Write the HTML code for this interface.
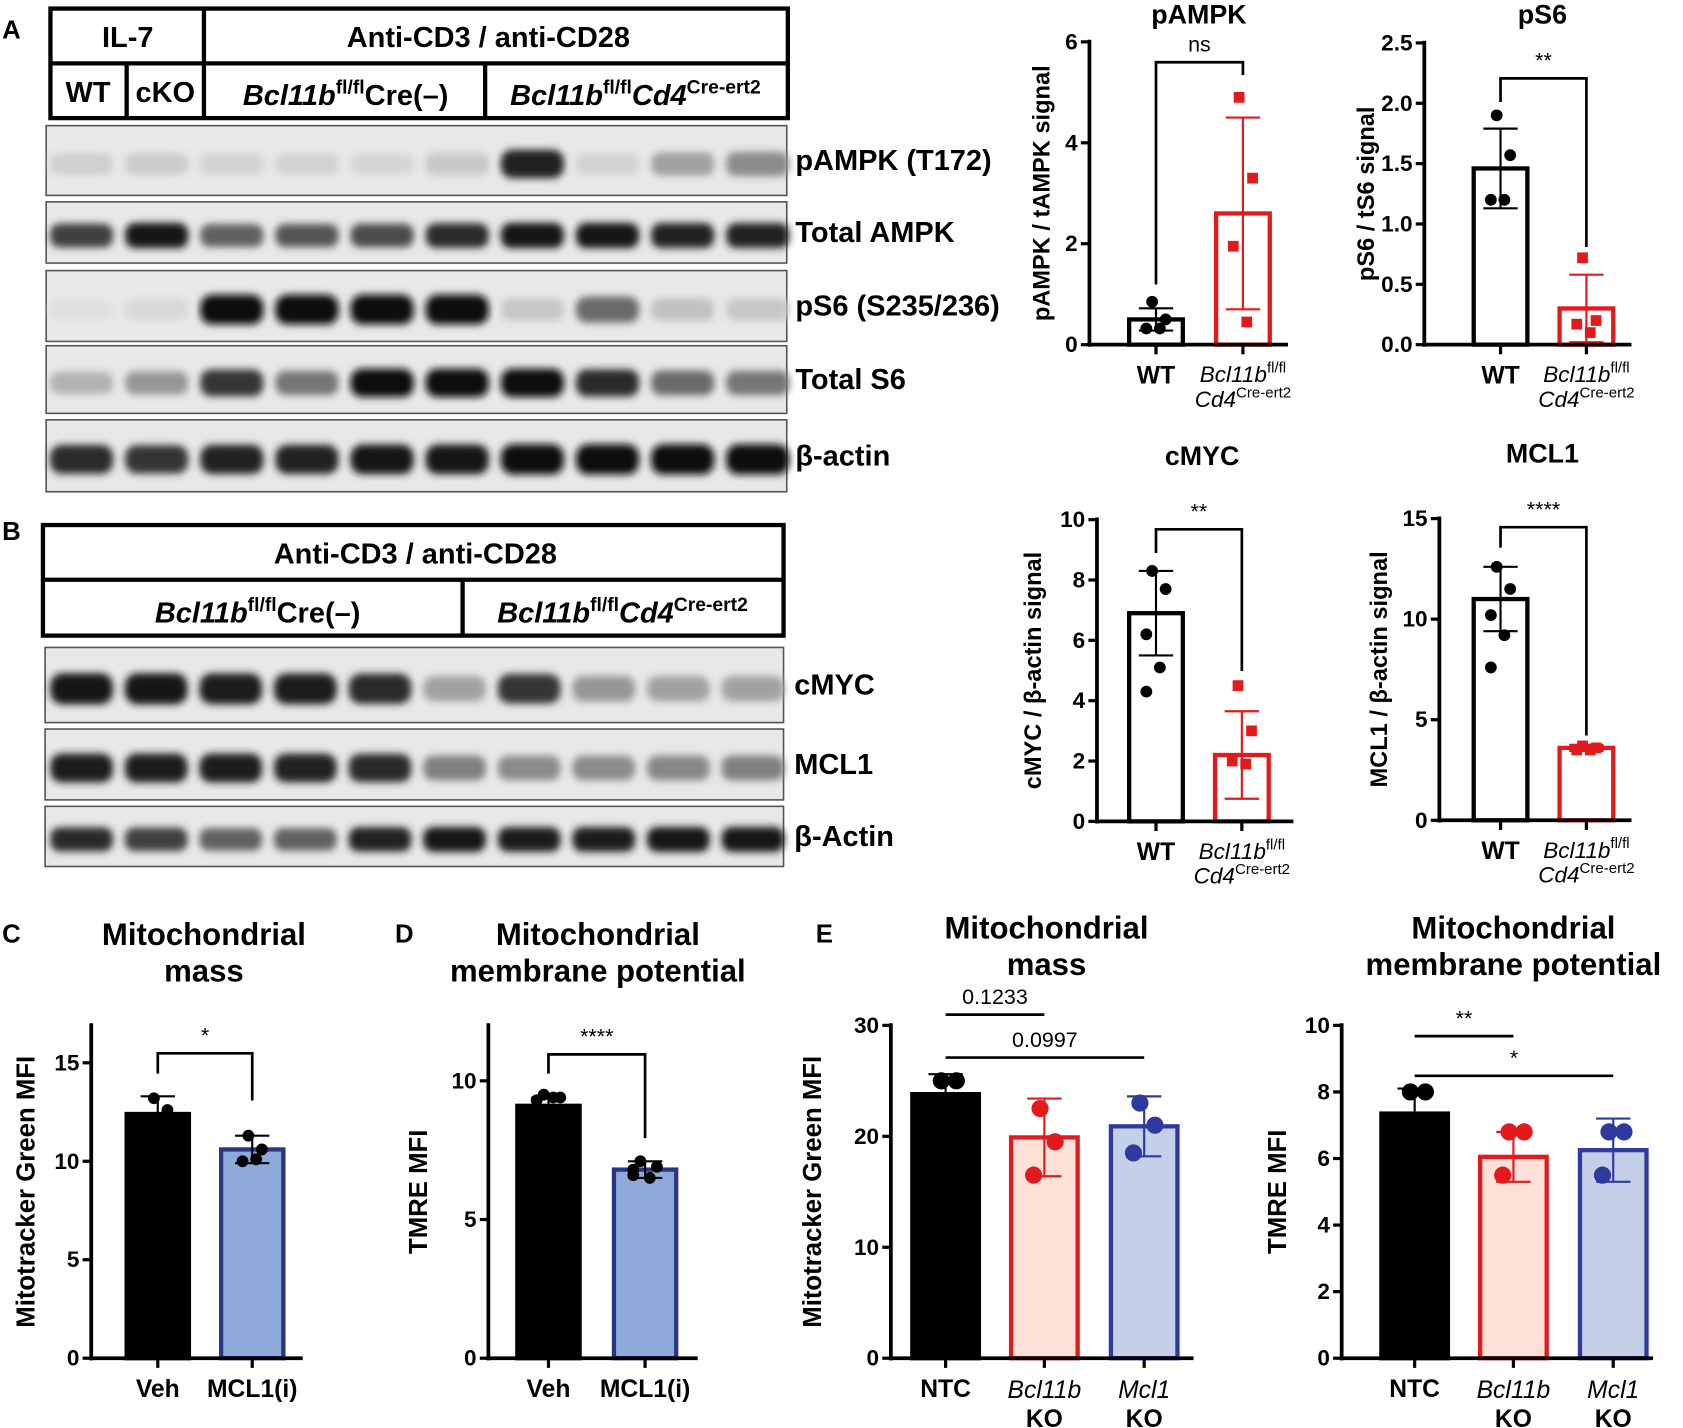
<!DOCTYPE html>
<html><head><meta charset="utf-8"><style>
html,body{margin:0;padding:0;background:#fff;}
svg{display:block;font-family:"Liberation Sans",Arial,sans-serif;}
</style></head><body>
<svg id="fig" width="1683" height="1428" viewBox="0 0 1568 1330" preserveAspectRatio="none" xmlns="http://www.w3.org/2000/svg">
<defs>
<filter id="blur" x="-30%" y="-80%" width="160%" height="260%"><feGaussianBlur stdDeviation="3.5"/></filter>
</defs>
<g id="static" font-weight="bold" fill="#000">
<text x="2" y="36" font-size="24">A</text>
<text x="2" y="503" font-size="24">B</text>
<text x="2" y="878" font-size="24">C</text>
<text x="368" y="878" font-size="24">D</text>
<text x="760" y="878" font-size="24">E</text>

<g fill="none" stroke="#000" stroke-width="4">
<rect x="47" y="8" width="687" height="102"/>
<line x1="47" y1="59" x2="734" y2="59"/>
<line x1="190" y1="8" x2="190" y2="110"/>
<line x1="118" y1="59" x2="118" y2="110"/>
<line x1="452" y1="59" x2="452" y2="110"/>
</g>
<text x="119" y="44" font-size="27" text-anchor="middle">IL-7</text>
<text x="455" y="44" font-size="27" text-anchor="middle">Anti-CD3 / anti-CD28</text>
<text x="82" y="95" font-size="27" text-anchor="middle">WT</text>
<text x="154" y="95" font-size="27" text-anchor="middle">cKO</text>
<text x="322" y="98" font-size="27" text-anchor="middle"><tspan font-style="italic">Bcl11b</tspan><tspan font-size="18" dy="-11">fl/fl</tspan><tspan dy="11">Cre(–)</tspan></text>
<text x="592" y="98" font-size="27" text-anchor="middle"><tspan font-style="italic">Bcl11b</tspan><tspan font-size="18" dy="-11">fl/fl</tspan><tspan dy="11" font-style="italic">Cd4</tspan><tspan font-size="18" dy="-11">Cre-ert2</tspan></text>

<g fill="none" stroke="#000" stroke-width="4">
<rect x="40" y="489" width="690" height="103"/>
<line x1="40" y1="540" x2="730" y2="540"/>
<line x1="431" y1="540" x2="431" y2="592"/>
</g>
<text x="387" y="525" font-size="27" text-anchor="middle">Anti-CD3 / anti-CD28</text>
<text x="240" y="580" font-size="27" text-anchor="middle"><tspan font-style="italic">Bcl11b</tspan><tspan font-size="18" dy="-11">fl/fl</tspan><tspan dy="11">Cre(–)</tspan></text>
<text x="580" y="580" font-size="27" text-anchor="middle"><tspan font-style="italic">Bcl11b</tspan><tspan font-size="18" dy="-11">fl/fl</tspan><tspan dy="11" font-style="italic">Cd4</tspan><tspan font-size="18" dy="-11">Cre-ert2</tspan></text>

<text x="1117" y="22" font-size="25" text-anchor="middle">pAMPK</text>
<text x="1437" y="22" font-size="25" text-anchor="middle">pS6</text>
<text x="1120" y="433" font-size="25" text-anchor="middle">cMYC</text>
<text x="1437" y="431" font-size="25" text-anchor="middle">MCL1</text>
<text x="190" y="880" font-size="29" text-anchor="middle">Mitochondrial</text>
<text x="190" y="914" font-size="29" text-anchor="middle">mass</text>
<text x="557" y="880" font-size="29" text-anchor="middle">Mitochondrial</text>
<text x="557" y="914" font-size="29" text-anchor="middle">membrane potential</text>
<text x="975" y="874" font-size="29" text-anchor="middle">Mitochondrial</text>
<text x="975" y="908" font-size="29" text-anchor="middle">mass</text>
<text x="1410" y="874" font-size="29" text-anchor="middle">Mitochondrial</text>
<text x="1410" y="908" font-size="29" text-anchor="middle">membrane potential</text>
</g>
<g id="blots"></g>
<g id="charts"></g>
</svg>
<script>
// ===== Blot data (band intensity 0..1 per lane) =====
const blotALabels = ["pAMPK (T172)","Total AMPK","pS6 (S235/236)","Total S6","β-actin"];
const blotA_pAMPK = [0.08,0.1,0.07,0.07,0.05,0.12,0.9,0.07,0.3,0.4];
const blotA_tAMPK = [0.75,0.95,0.6,0.65,0.7,0.85,0.95,0.95,0.9,0.9];
const blotA_pS6 = [0,0.04,1,1,1,1,0.12,0.55,0.15,0.12];
const blotA_tS6 = [0.22,0.35,0.8,0.5,0.98,1,1,0.85,0.55,0.5];
const blotA_actin = [0.85,0.8,0.9,0.9,0.95,0.95,1,1,1,1];
const blotBLabels = ["cMYC","MCL1","β-Actin"];
const blotB_cMYC = [0.95,0.95,0.92,0.92,0.85,0.3,0.8,0.35,0.3,0.3];
const blotB_MCL1 = [0.92,0.92,0.92,0.88,0.85,0.45,0.4,0.4,0.42,0.45];
const blotB_actin = [0.85,0.75,0.6,0.6,0.9,0.95,0.92,0.92,0.95,0.95];

const NS="http://www.w3.org/2000/svg";
function mk(tag, attrs, parent){const e=document.createElementNS(NS,tag);for(const k in attrs)e.setAttribute(k,attrs[k]);parent.appendChild(e);return e;}
const blots=document.getElementById('blots');
function strip(x,y,w,h,vals,label,lx,name,firstC,step){
  const g=mk('g',{},blots);
  
  
  mk('rect',{x:x,y:y,width:w,height:h,fill:'#e8e8e8',stroke:'#555','stroke-width':1.5},g);
  const inner=mk('g',{filter:'url(#blur)'},g);
  vals.forEach((v,i)=>{
    const cx=firstC+i*step;
    const c=Math.round(225-215*v);
    const bw=step*0.84, bh=Math.max(10,h*0.3+h*0.12*v);
    mk('rect',{x:cx-bw/2,y:y+h*0.55-bh/2,width:bw,height:bh,rx:bh/2.5,fill:`rgb(${c},${c},${c})`},inner);
  });
  const t=mk('text',{x:lx,y:y+h/2+9,'font-size':27,'font-weight':'bold'},g);
  t.textContent=label;
}
const aRows=[[117,65,blotA_pAMPK],[188,57,blotA_tAMPK],[252,66,blotA_pS6],[322,63,blotA_tS6],[391,67,blotA_actin]];
aRows.forEach((r,i)=>strip(43,r[0],690,r[1],r[2],blotALabels[i],741,'blot-a-'+i,76,70));
const bRows=[[603,70,blotB_cMYC],[679,66,blotB_MCL1],[751,56,blotB_actin]];
bRows.forEach((r,i)=>strip(42,r[0],688,r[1],r[2],blotBLabels[i],740,'blot-b-'+i,76,69.5));

// ===== Chart data =====
const pampkCats=["WT","KO"], pampkMeans=[0.5,2.6], pampkSD=[0.22,1.9];
const pampkPts=[[0.85,0.5,0.32,0.32],[4.9,3.3,1.95,0.45]];
const pampkTicks=[0,2,4,6];
const ps6Means=[1.46,0.3], ps6SD=[0.33,0.28];
const ps6Pts=[[1.9,1.57,1.2,1.2],[0.72,0.2,0.17,0.1]];
const ps6Ticks=[0,0.5,1,1.5,2,2.5];
const cmycMeans=[6.9,2.2], cmycSD=[1.4,1.45];
const cmycPts=[[8.3,7.7,6.2,5.1,4.3],[4.5,3.0,2.0,1.9]];
const cmycTicks=[0,2,4,6,8,10];
const mcl1Means=[11,3.6], mcl1SD=[1.6,0.15];
const mcl1Pts=[[12.6,11.5,10.2,9.2,7.6],[3.7,3.6,3.5,3.5]];
const mcl1Ticks=[0,5,10,15];
const cCats=["Veh","MCL1(i)"], cMeans=[12.4,10.6], cSD=[0.9,0.7];
const cPts=[[13.2,12.6],[11.3,10.6,10.0,10.1]];
const cTicks=[0,5,10,15];
const dMeans=[9.1,6.8], dSD=[0.3,0.3];
const dPts=[[9.5,9.4,9.3,9.4],[7.1,6.9,6.6,6.5,6.8]];
const dTicks=[0,5,10];
const eCats=["NTC","Bcl11b|KO","Mcl1|KO"];
const eMassMeans=[23.8,19.9,20.9], eMassSD=[1.8,3.5,2.7];
const eMassPts=[[25,25],[22.5,19.5,16.5],[23,21,18.5]];
const eMassTicks=[0,10,20,30];
const eTmreMeans=[7.35,6.05,6.25], eTmreSD=[0.75,0.75,0.95];
const eTmrePts=[[8.0,8.0],[6.8,6.8,5.5],[6.8,6.8,5.5]];
const eTmreTicks=[0,2,4,6,8,10];

const charts=document.getElementById('charts');
function chart(o){
  const g=mk('g',{},charts);
  
  
  const y=v=>o.y0-(v/o.vmax)*(o.y0-o.ytop);
  o.means.forEach((m,i)=>{
    const cx=o.cx[i], st=o.styles[i];
    const b=mk('rect',{x:cx-o.bw/2,y:y(m),width:o.bw,height:o.y0-y(m),fill:st.fill,stroke:st.stroke,'stroke-width':4},g);
    
    
    const sc=st.err;
    mk('line',{x1:cx,y1:y(m+o.sd[i]),x2:cx,y2:y(Math.max(0,m-o.sd[i])),stroke:sc,'stroke-width':2},g);
    mk('line',{x1:cx-16,y1:y(m+o.sd[i]),x2:cx+16,y2:y(m+o.sd[i]),stroke:sc,'stroke-width':2},g);
    mk('line',{x1:cx-16,y1:y(m-o.sd[i]),x2:cx+16,y2:y(m-o.sd[i]),stroke:sc,'stroke-width':2},g);
    const pts=o.pts[i];
    pts.forEach((p,j)=>{
      const off=(pts.length>1?(j%2?1:-1)*o.jit*((j%3)?1:0.4):0);
      const px=cx+off;
      let d;
      if(st.sq) d=mk('rect',{x:px-5,y:y(p)-5,width:10,height:10,fill:st.pt},g);
      else d=mk('circle',{cx:px,cy:y(p),r:o.pr||5.5,fill:st.pt},g);
      
      
    });
  });
  mk('line',{x1:o.ax,y1:o.ytop-2,x2:o.ax,y2:o.y0+2,stroke:'#000','stroke-width':3.5},g);
  mk('line',{x1:o.ax,y1:o.y0,x2:o.xend,y2:o.y0,stroke:'#000','stroke-width':3.5},g);
  o.ticks.forEach(t=>{
    mk('line',{x1:o.ax-8,y1:y(t),x2:o.ax,y2:y(t),stroke:'#000','stroke-width':3},g);
    const tx=mk('text',{x:o.ax-11,y:y(t)+7,'font-size':o.tfs||21,'text-anchor':'end','font-weight':'bold'},g);
    tx.textContent=o.tfmt?o.tfmt(t):t;
  });
  o.cx.forEach((cx,i)=>{
    mk('line',{x1:cx,y1:o.y0,x2:cx,y2:o.y0+9,stroke:'#000','stroke-width':3},g);
    const lab=o.cats[i];
    if(lab==='KO2'){
      const t1=mk('text',{x:cx,y:o.y0+35,'font-size':21,'text-anchor':'middle','font-style':'italic'},g);
      t1.innerHTML='Bcl11b<tspan font-size="14" font-style="normal" dy="-9">fl/fl</tspan>';
      const t2=mk('text',{x:cx,y:o.y0+58,'font-size':21,'text-anchor':'middle','font-style':'italic'},g);
      t2.innerHTML='Cd4<tspan font-size="14" font-style="normal" dy="-9">Cre-ert2</tspan>';
    } else if(lab.indexOf('|')>=0){
      const p=lab.split('|');
      const t1=mk('text',{x:cx,y:o.y0+37,'font-size':23,'text-anchor':'middle','font-style':'italic'},g);t1.textContent=p[0];
      const t2=mk('text',{x:cx,y:o.y0+64,'font-size':23,'text-anchor':'middle','font-weight':'bold'},g);t2.textContent=p[1];
    } else {
      const t=mk('text',{x:cx,y:o.y0+36,'font-size':23,'text-anchor':'middle','font-weight':'bold'},g);t.textContent=lab;
    }
  });
  const yt=mk('text',{x:0,y:0,'font-size':o.yfs||22,'font-weight':'bold','text-anchor':'middle',transform:`translate(${o.ytx},${(o.ytop+o.y0)/2}) rotate(-90)`},g);
  yt.textContent=o.ytitle;
  (o.sig||[]).forEach(s=>{
    if(s.bracket){
      mk('polyline',{points:`${o.cx[s.a]},${s.ya} ${o.cx[s.a]},${s.y} ${o.cx[s.b]},${s.y} ${o.cx[s.b]},${s.yb}`,fill:'none',stroke:'#000','stroke-width':2.5},g);
    } else {
      mk('line',{x1:o.cx[s.a],y1:s.y,x2:o.cx[s.b],y2:s.y,stroke:'#000','stroke-width':2.5},g);
    }
    const t=mk('text',{x:(o.cx[s.a]+o.cx[s.b])/2,y:s.y-10,'font-size':s.fs||20,'text-anchor':'middle'},g);
    t.textContent=s.txt;
  });
}
const W={fill:'#fff',stroke:'#000',err:'#000',pt:'#000'};
const R={fill:'#fff',stroke:'#e31a1c',err:'#e31a1c',pt:'#e31a1c',sq:true};
const K={fill:'#000',stroke:'#000',err:'#000',pt:'#000'};
const BL={fill:'#8eaadb',stroke:'#2b3580',err:'#000',pt:'#000'};
const ER={fill:'#fde0d8',stroke:'#e31a1c',err:'#e31a1c',pt:'#e31a1c'};
const EB={fill:'#c5cfe8',stroke:'#2e3a9e',err:'#2e3a9e',pt:'#2e3a9e'};

chart({name:'pampk-chart',ax:1015,xend:1200,y0:321,ytop:39,vmax:6,ticks:pampkTicks,cats:["WT","KO2"],cx:[1077,1158],bw:50,means:pampkMeans,sd:pampkSD,pts:pampkPts,styles:[W,R],jit:9,ytitle:'pAMPK / tAMPK signal',ytx:978,sig:[{bracket:1,a:0,b:1,y:58,ya:265,yb:70,txt:'ns'}]});
chart({name:'ps6-chart',ax:1327,xend:1520,y0:321,ytop:40,vmax:2.5,ticks:ps6Ticks,tfmt:t=>t.toFixed(1),cats:["WT","KO2"],cx:[1398,1478],bw:50,means:ps6Means,sd:ps6SD,pts:ps6Pts,styles:[W,R],jit:9,ytitle:'pS6 / tS6 signal',ytx:1280,sig:[{bracket:1,a:0,b:1,y:73,ya:95,yb:230,txt:'**'}]});
chart({name:'cmyc-chart',ax:1022,xend:1205,y0:765,ytop:484,vmax:10,ticks:cmycTicks,cats:["WT","KO2"],cx:[1077,1157],bw:50,means:cmycMeans,sd:cmycSD,pts:cmycPts,styles:[W,R],jit:9,ytitle:'cMYC / β-actin signal',ytx:970,sig:[{bracket:1,a:0,b:1,y:493,ya:515,yb:625,txt:'**'}]});
chart({name:'mcl1-chart',ax:1341,xend:1520,y0:764,ytop:483,vmax:15,ticks:mcl1Ticks,cats:["WT","KO2"],cx:[1398,1478],bw:50,means:mcl1Means,sd:mcl1SD,pts:mcl1Pts,styles:[W,R],jit:9,ytitle:'MCL1 / β-actin signal',ytx:1292,sig:[{bracket:1,a:0,b:1,y:491,ya:510,yb:685,txt:'****'}]});
chart({name:'mito-mass-mcl1i-chart',ax:85,xend:282,y0:1265,ytop:955,vmax:16.9,ticks:cTicks,cats:cCats,cx:[147,235],bw:58,means:cMeans,sd:cSD,pts:cPts,styles:[K,BL],jit:9,ytitle:'Mitotracker Green MFI',ytx:32,yfs:24,sig:[{bracket:1,a:0,b:1,y:981,ya:1000,yb:1025,txt:'*'}]});
chart({name:'tmre-mcl1i-chart',ax:455,xend:650,y0:1265,ytop:955,vmax:12,ticks:dTicks,cats:cCats,cx:[511,601],bw:58,means:dMeans,sd:dSD,pts:dPts,styles:[K,BL],jit:11,ytitle:'TMRE MFI',ytx:398,yfs:24,sig:[{bracket:1,a:0,b:1,y:982,ya:1000,yb:1060,txt:'****'}]});
chart({name:'mito-mass-ko-chart',ax:830,xend:1112,y0:1265,ytop:955,vmax:30,ticks:eMassTicks,cats:eCats,cx:[881,973,1066],bw:62,means:eMassMeans,sd:eMassSD,pts:eMassPts,styles:[K,ER,EB],jit:10,pr:8,ytitle:'Mitotracker Green MFI',ytx:765,yfs:24,sig:[{a:0,b:1,y:945,txt:'0.1233'},{a:0,b:2,y:985,txt:'0.0997'}]});
chart({name:'tmre-ko-chart',ax:1250,xend:1540,y0:1265,ytop:955,vmax:10,ticks:eTmreTicks,cats:eCats,cx:[1318,1410,1503],bw:62,means:eTmreMeans,sd:eTmreSD,pts:eTmrePts,styles:[K,ER,EB],jit:10,pr:8,ytitle:'TMRE MFI',ytx:1198,yfs:24,sig:[{a:0,b:1,y:965,txt:'**'},{a:0,b:2,y:1002,txt:'*'}]});
</script>
</body></html>
